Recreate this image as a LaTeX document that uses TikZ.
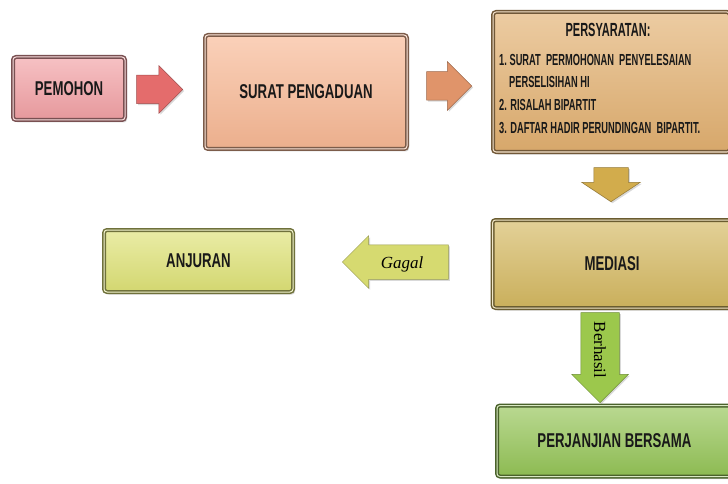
\documentclass[tikz,border=0pt]{standalone}
\usepackage{fontspec}
\setmainfont{Liberation Serif}
\newfontfamily\cond[FakeStretch=0.66]{Liberation Sans}
\newfontfamily\condn[FakeStretch=0.58]{Liberation Sans}
\usetikzlibrary{shapes.arrows,shadows}
\definecolor{cPem}{HTML}{F2A0A4}
\definecolor{cArr1}{HTML}{E46C6C}
\definecolor{cSur}{HTML}{F8B894}
\definecolor{cArr2}{HTML}{E0946A}
\definecolor{cPer}{HTML}{E2B070}
\definecolor{cArr3}{HTML}{D2AC4C}
\definecolor{cMed}{HTML}{D4B860}
\definecolor{cGag}{HTML}{D6DA70}
\definecolor{cAnj}{HTML}{DEE276}
\definecolor{cBer}{HTML}{9CC84C}
\definecolor{cPrj}{HTML}{94C456}
\begin{document}
\begin{tikzpicture}[x=1pt,y=-1pt,
  bev/.style={draw=#1!50!black, line width=1.5pt, double=#1!35!white, double distance=1pt,
    rounded corners=3pt, top color=#1!65!white, bottom color=#1!95!black,
    drop shadow={opacity=0.3, shadow xshift=2pt, shadow yshift=-2.5pt},
    inner sep=0pt, text=black!90, font=\cond\bfseries\fontsize{20}{24}\selectfont},
  barrow/.style={single arrow, draw=#1!70!black, line width=0.5pt, fill=#1,
    inner xsep=0pt, anchor=tip, drop shadow={opacity=0.3, shadow xshift=1.5pt, shadow yshift=-1.5pt}},
  ltxt/.style={anchor=west, inner sep=0pt, text=black!90, font=\condn\bfseries\fontsize{16}{18}\selectfont}
]
\useasboundingbox (0,0) rectangle (728,484);

% boxes
\node[bev=cPem, minimum width=112pt, minimum height=63pt] (pem) at (69,88.5) {PEMOHON\hspace{14pt}};
\node[bev=cSur, minimum width=202pt, minimum height=114pt] (sur) at (306,92) {SURAT PENGADUAN\hspace{10pt}};
\node[bev=cPer, minimum width=237pt, minimum height=140pt] (per) at (611.5,82) {};
\node[bev=cMed, minimum width=239pt, minimum height=88pt] (med) at (612,264) {MEDIASI};
\node[bev=cAnj, minimum width=189pt, minimum height=62pt] (anj) at (198.5,261) {ANJURAN};
\node[bev=cPrj, minimum width=235pt, minimum height=71pt] (prj) at (614.5,441) {PERJANJIAN BERSAMA};

% requirements text
\node[inner sep=0pt, text=black!90, font=\condn\bfseries\fontsize{19}{21}\selectfont] (h) at (608,30) {PERSYARATAN:};
\node[ltxt] (l1) at (499,60) {1.\,SURAT\ \ PERMOHONAN\ \ PENYELESAIAN};
\node[ltxt] (l1b) at (509,82) {PERSELISIHAN HI};
\node[ltxt] (l2) at (499,105) {2. RISALAH BIPARTIT};
\node[ltxt] (l3) at (499,128) {3. DAFTAR HADIR PERUNDINGAN\ \ BIPARTIT.};

% block arrows (placed by their tips)
\node[barrow=cArr1, inner ysep=14pt, single arrow head extend=9.5pt, minimum height=46pt] (a1) at (183,89.5) {};
\node[barrow=cArr2, inner ysep=14pt, single arrow head extend=10pt, minimum height=45pt] (a2) at (472,86) {};
\node[barrow=cArr3, inner ysep=17pt, single arrow head extend=12pt, single arrow tip angle=113, minimum height=34pt, rotate=-90] (a3) at (611,202) {};
\node[barrow=cGag, inner ysep=17pt, single arrow head extend=9pt, minimum height=106pt, rotate=180] (a4) at (342,262) {};
\node[barrow=cBer, inner ysep=19pt, single arrow head extend=9pt, minimum height=90pt, rotate=-90] (a5) at (600,403) {};

\node[font=\itshape\fontsize{17}{20}\selectfont, inner sep=0pt] (gagal) at (402,264) {Gagal};
\node[font=\fontsize{17}{20}\selectfont, inner sep=0pt, rotate=-90] (berhasil) at (600,350) {Berhasil};
\end{tikzpicture}
\end{document}
